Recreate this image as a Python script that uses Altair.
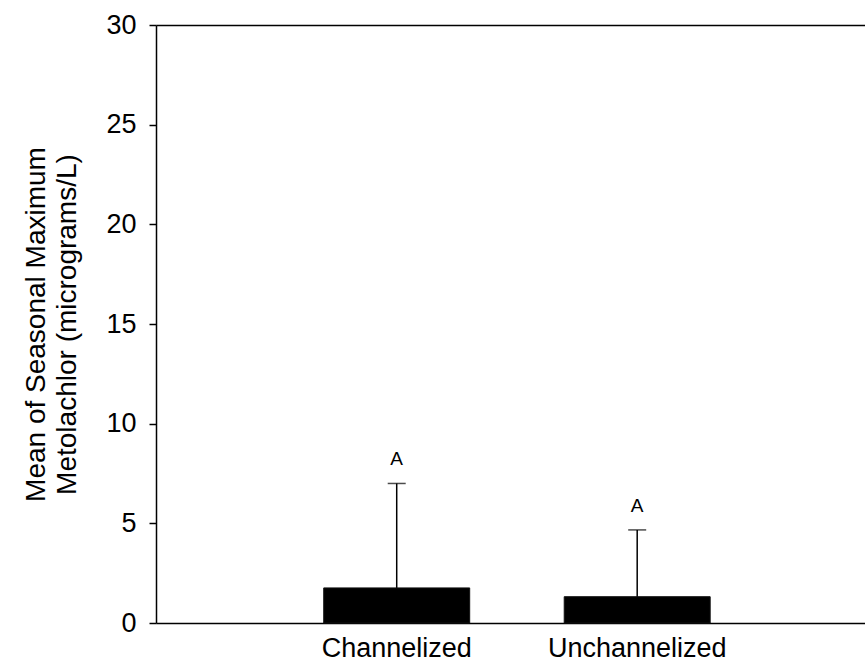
import altair as alt
import pandas as pd

categories = ["Channelized", "Unchannelized"]
means = [1.76, 1.32]
upper = [7.0, 4.67]
letters = ["A", "A"]
y_ticks = [0, 5, 10, 15, 20, 25, 30]

df = pd.DataFrame({"cat": categories, "mean": means, "upper": upper, "letter": letters})

FONT = "Liberation Sans"
LFS = 27
TFS = 28

xscale = alt.Scale(domain=categories, paddingInner=0.393, paddingOuter=0.6706, align=0.52)
yscale = alt.Scale(domain=[0, 30], nice=False, zero=True)

base = alt.Chart(df)

bars = base.mark_bar(color="black", stroke="#111111", strokeWidth=1).encode(
    x=alt.X("cat:N", scale=xscale, sort=categories,
            axis=alt.Axis(title=None, orient="bottom", labelAngle=0, ticks=False,
                          labelPadding=12, labelFontSize=LFS, labelFont=FONT,
                          labelColor="black", domainColor="black", domainWidth=1.5)),
    y=alt.Y("mean:Q", scale=yscale,
            axis=alt.Axis(values=y_ticks, title=["Mean of Seasonal Maximum", "Metolachlor (micrograms/L)"],
                          titleFontSize=TFS, titleFont=FONT, titleFontWeight="normal",
                          titleColor="black", titleLineHeight=31, titlePadding=24,
                          labelFontSize=LFS, labelFont=FONT, labelColor="black",
                          labelPadding=13, tickSize=7, tickWidth=1.5, tickColor="black",
                          domainColor="black", domainWidth=1.5, grid=False)),
)

err = base.mark_rule(color="black", strokeWidth=1.5).encode(
    x=alt.X("cat:N", scale=xscale, sort=categories, axis=None),
    y=alt.Y("mean:Q", scale=yscale),
    y2="upper:Q",
)

caps = base.mark_tick(color="black", thickness=1.5, size=18, orient="horizontal").encode(
    x=alt.X("cat:N", scale=xscale, sort=categories, axis=None),
    y=alt.Y("upper:Q", scale=yscale),
)

txt = base.mark_text(fontSize=19, font=FONT, color="black", dy=-24, baseline="middle").encode(
    x=alt.X("cat:N", scale=xscale, sort=categories,
            axis=alt.Axis(orient="top", title=None, labels=False, ticks=False,
                          domainColor="black", domainWidth=1.5)),
    y=alt.Y("upper:Q", scale=yscale),
    text="letter:N",
)

chart = alt.layer(bars, err, caps, txt).resolve_axis(x="independent").properties(
    width=709, height=598,
    padding={"left": 22, "top": 11, "right": 0, "bottom": 0},
    background="white",
).configure_view(stroke=None)

chart.save("out.html", embed_options={"renderer": "svg", "actions": False})
